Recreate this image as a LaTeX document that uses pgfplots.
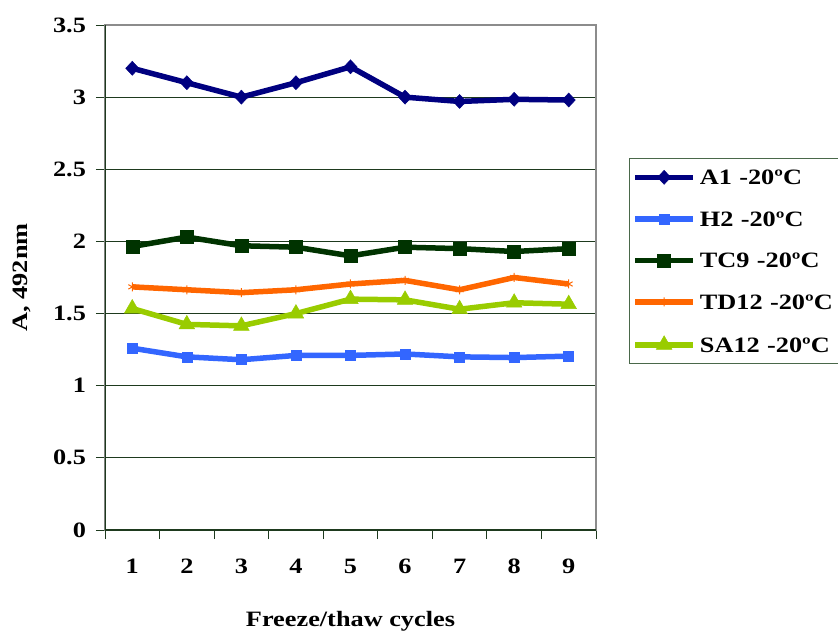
\documentclass[border=0pt]{standalone}
\usepackage{fontspec}
\setmainfont{Liberation Serif}[FakeStretch=1.2]
\usepackage{pgfplots}
\pgfplotsset{compat=1.18}

\definecolor{cA}{HTML}{000080}
\definecolor{cH}{HTML}{3366FF}
\definecolor{cTC}{HTML}{003300}
\definecolor{cTD}{HTML}{FF6600}
\definecolor{cSA}{HTML}{99CC00}
\definecolor{gridc}{HTML}{1E3A1E}
\definecolor{framec}{HTML}{8C8C8C}
\definecolor{legc}{HTML}{4A684A}

\newcommand{\chartfont}{\fontsize{22}{26}\selectfont\bfseries}

\begin{document}
\begin{tikzpicture}
\begin{axis}[
  scale only axis,
  width=491bp, height=505bp,
  xmin=0.5, xmax=9.5, ymin=0, ymax=3.5,
  % category boundaries carry the tick marks, labels sit half a step to the right
  xtick={0.5,1.5,...,9.5},
  xticklabels={1,2,3,4,5,6,7,8,9,{}},
  xticklabel style={xshift=27.28bp, yshift=-14bp},
  ytick={0,0.5,...,3.5},
  yticklabel style={xshift=-4bp},
  tick pos=left,
  tick align=outside,
  major tick length=9bp,
  tick style={draw=gridc, line width=0.8bp},
  ymajorgrids,
  grid style={draw=gridc, line width=0.8bp},
  axis line style={draw=framec, line width=1.4bp},
  ticklabel style={font=\chartfont},
  /pgf/number format/assume math mode=true,
  xlabel={Freeze/thaw cycles},
  ylabel={A, 492nm},
  every axis x label/.style={at={(axis description cs:0.5,-0.18)}, anchor=center, font=\chartfont},
  every axis y label/.style={at={(axis description cs:-0.169,0.5)}, rotate=90, anchor=center, font=\chartfont},
  line width=5.5bp,
  legend style={
    at={(rel axis cs:1.067,0.737)}, anchor=north west,
    draw=legc, line width=1bp, fill=white,
    font=\chartfont,
    inner xsep=3bp, inner ysep=11.5bp,
    row sep=26.5bp,
    nodes={inner sep=0pt, text height=15bp, text depth=0pt},
    /tikz/every odd column/.append style={column sep=4bp},
    /tikz/every even column/.append style={text width=170bp},
  },
  legend cell align=left,
  legend image code/.code={
    \draw[line width=5.5bp, mark repeat=2, mark phase=2, #1] plot coordinates {(0bp,0bp) (29bp,0bp) (58bp,0bp)};
  },
]
\addplot[cA, mark=diamond*, mark size=7bp, mark options={solid, line width=0.5bp, xscale=1.25}]
  coordinates {(1,3.20) (2,3.10) (3,3.00) (4,3.10) (5,3.21) (6,3.00) (7,2.97) (8,2.985) (9,2.98)};
\addlegendentry{A1 -20ºC}
\addplot[cH, mark=square*, mark size=5bp, mark options={solid, line width=0.5bp}]
  coordinates {(1,1.26) (2,1.20) (3,1.18) (4,1.21) (5,1.21) (6,1.22) (7,1.20) (8,1.195) (9,1.205)};
\addlegendentry{H2 -20ºC}
\addplot[cTC, mark=square*, mark size=6.5bp, mark options={solid, line width=0.5bp}]
  coordinates {(1,1.965) (2,2.03) (3,1.97) (4,1.96) (5,1.90) (6,1.96) (7,1.95) (8,1.93) (9,1.95)};
\addlegendentry{TC9 -20ºC}
\addplot[cTD, mark=asterisk, mark size=4.5bp, mark options={solid, line width=1bp}]
  coordinates {(1,1.685) (2,1.665) (3,1.645) (4,1.665) (5,1.705) (6,1.73) (7,1.665) (8,1.75) (9,1.705)};
\addlegendentry{TD12 -20ºC}
\addplot[cSA, mark=triangle*, mark size=9bp, mark options={solid, line width=0.5bp}]
  coordinates {(1,1.535) (2,1.425) (3,1.415) (4,1.50) (5,1.60) (6,1.595) (7,1.53) (8,1.575) (9,1.565)};
\addlegendentry{SA12 -20ºC}
% left and bottom axis lines in the darker green
\draw[gridc, line width=1.4bp] (rel axis cs:0,1) -- (rel axis cs:0,0) -- (rel axis cs:1,0);
\end{axis}
\pgfresetboundingbox
\path[use as bounding box] (-105bp,-102bp) rectangle (733bp,530bp);
\end{tikzpicture}
\end{document}
